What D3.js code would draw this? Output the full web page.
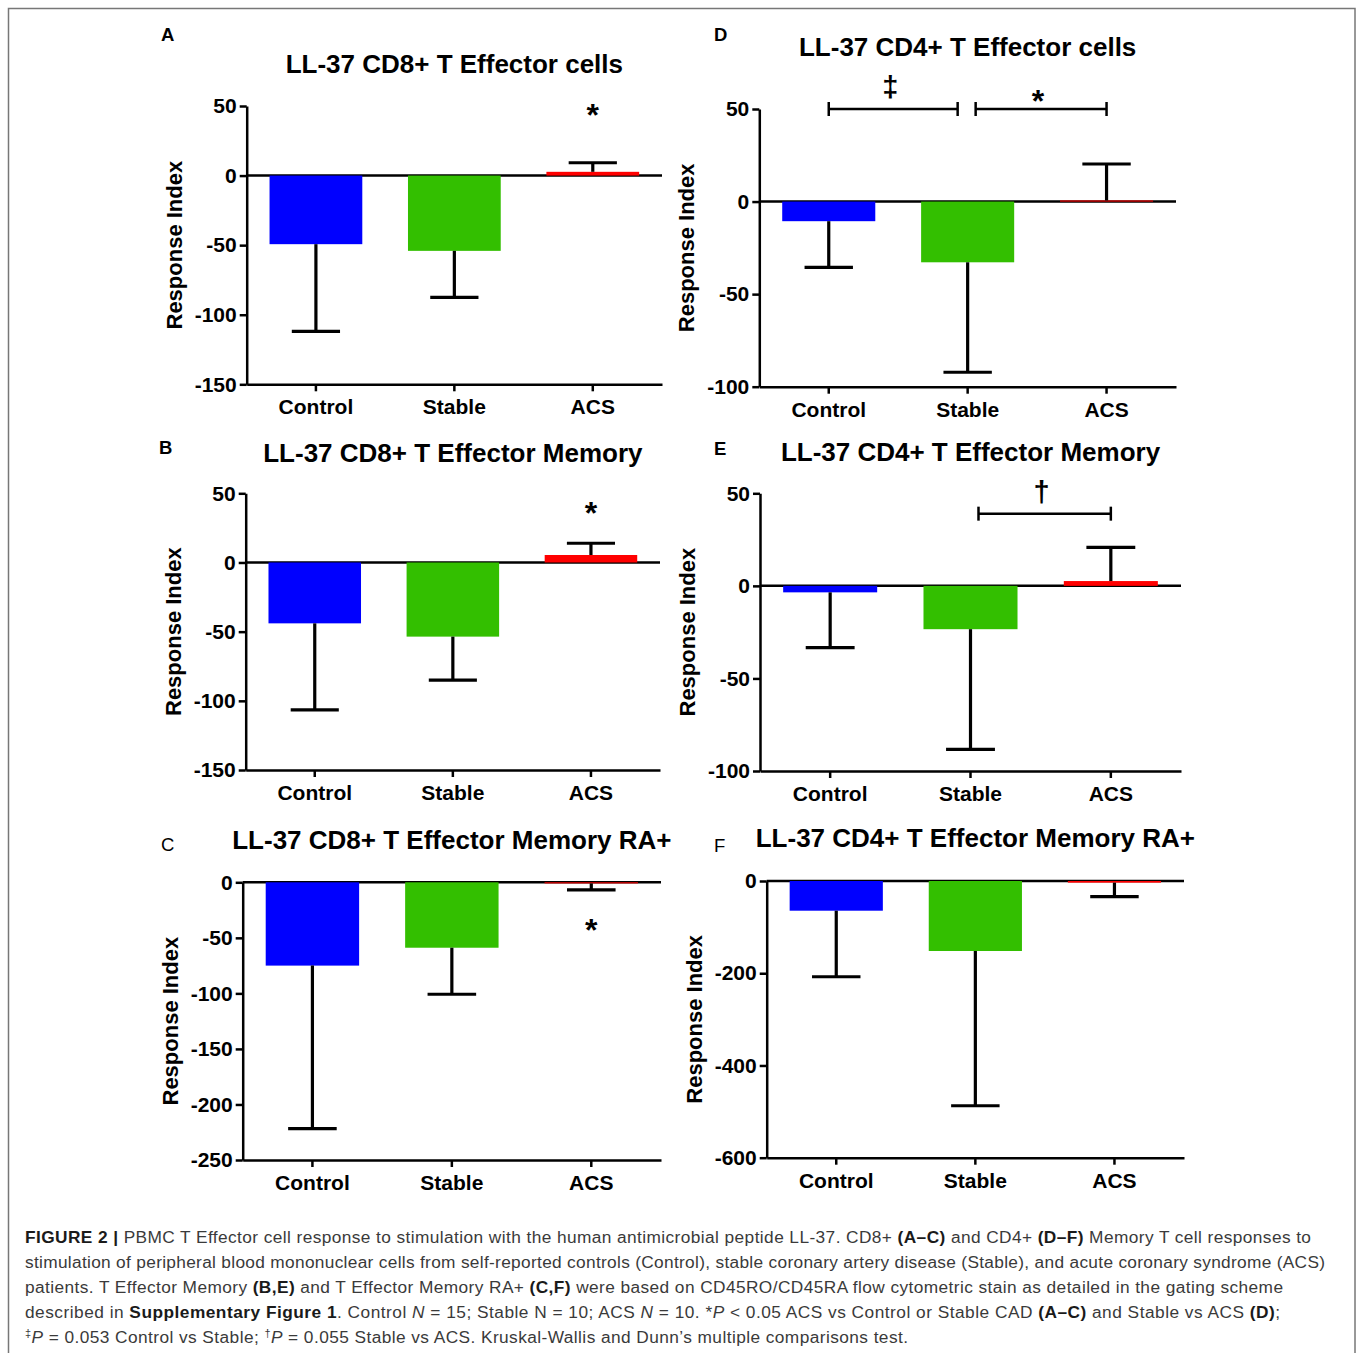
<!DOCTYPE html>
<html>
<head>
<meta charset="utf-8">
<script src="https://cdn.jsdelivr.net/npm/d3@7"></script>
<style>
  body { margin: 0; background: #fff; }
  svg text { font-family: "Liberation Sans", Arial, Helvetica, sans-serif; }
</style>
</head>
<body>
<svg id="fig"></svg>
<script>
// ---- data ----
const categories = ["Control", "Stable", "ACS"];
const panelIds = ["A", "B", "C", "D", "E", "F"];
const panelTitles = [
  "LL-37 CD8+ T Effector cells",
  "LL-37 CD8+ T Effector Memory",
  "LL-37 CD8+ T Effector Memory RA+",
  "LL-37 CD4+ T Effector cells",
  "LL-37 CD4+ T Effector Memory",
  "LL-37 CD4+ T Effector Memory RA+"
];
const yLabel = "Response Index";

// mean response index per group (Control, Stable, ACS)
const meanA = [-49.3, -54.1, 2.7];
const meanB = [-44.0, -53.6, 5.4];
const meanC = [-75.0, -58.9, -1.0];
const meanD = [-10.6, -32.8, 0.6];
const meanE = [-3.5, -23.4, 2.6];
const meanF = [-64.4, -151.8, -3.6];

// one-sided error (SEM), drawn away from zero
const semA = [62.6, 33.5, 6.5];
const semB = [62.6, 31.4, 8.5];
const semC = [146.8, 41.9, 5.9];
const semD = [24.9, 59.4, 19.7];
const semE = [29.9, 64.9, 18.2];
const semF = [143.2, 335.6, 30.4];

// y axis domains and tick values
const domainA = [-150, 50], ticksA = [50, 0, -50, -100, -150];
const domainB = [-150, 50], ticksB = [50, 0, -50, -100, -150];
const domainC = [-250, 0],  ticksC = [0, -50, -100, -150, -200, -250];
const domainD = [-100, 50], ticksD = [50, 0, -50, -100];
const domainE = [-100, 50], ticksE = [50, 0, -50, -100];
const domainF = [-600, 0],  ticksF = [0, -200, -400, -600];

// significance marks: single group marks and brackets (value = y in data units)
const starMarks = [
  { panel: "A", group: "ACS", value: 46, symbol: "*" },
  { panel: "B", group: "ACS", value: 38, symbol: "*" },
  { panel: "C", group: "ACS", value: -40, symbol: "*" }
];
const brackets = [
  { panel: "D", from: "Control", to: "Stable", value: 50, symbol: "\u2021" },
  { panel: "D", from: "Stable", to: "ACS", value: 50, symbol: "*" },
  { panel: "E", from: "Stable", to: "ACS", value: 39, symbol: "\u2020" }
];

const means = [meanA, meanB, meanC, meanD, meanE, meanF];
const sems = [semA, semB, semC, semD, semE, semF];
const domains = [domainA, domainB, domainC, domainD, domainE, domainF];
const tickSets = [ticksA, ticksB, ticksC, ticksD, ticksE, ticksF];

const groupColors = ["#0000ff", "#33bf00", "#ff0000"];

// ---- layout (pixels) ----
const layout = [
  { left: 246.7, right: 662,  top: 106,   bottom: 384.3,  titleGap: 33, label: [161, 41],  labelWeight: "bold" },
  { left: 245.7, right: 660,  top: 493.3, bottom: 770,    titleGap: 31, label: [159, 454], labelWeight: "bold" },
  { left: 242.7, right: 661,  top: 882.3, bottom: 1160,   titleGap: 33, label: [161, 851], labelWeight: "normal" },
  { left: 759.3, right: 1176, top: 109,   bottom: 386.7,  titleGap: 53, label: [714, 41],  labelWeight: "bold" },
  { left: 760,   right: 1181, top: 493.3, bottom: 771,    titleGap: 32, label: [714, 455], labelWeight: "bold" },
  { left: 766.7, right: 1184, top: 881,   bottom: 1157.7, titleGap: 34, label: [714, 852], labelWeight: "normal" }
];

const W = 1358, H = 1353;
const svg = d3.select("#fig").attr("width", W).attr("height", H);

svg.append("rect")
  .attr("x", 8.5).attr("y", 8.5)
  .attr("width", 1346.5).attr("height", 1400)
  .attr("fill", "none").attr("stroke", "#777").attr("stroke-width", 1.5);

panelIds.forEach((id, i) => {
  const L = layout[i];
  const g = svg.append("g");

  const x = d3.scaleBand().domain(categories)
    .range([L.left, L.right]).paddingInner(0.33).paddingOuter(0.165);
  const y = d3.scaleLinear().domain(domains[i]).range([L.bottom, L.top]);
  const bw = x.bandwidth();

  const rows = categories.map((c, k) => ({ c, v: means[i][k], e: sems[i][k], color: groupColors[k] }));

  // zero line
  g.append("line")
    .attr("x1", L.left).attr("x2", L.right)
    .attr("y1", y(0)).attr("y2", y(0))
    .attr("stroke", "#000").attr("stroke-width", 2.5);

  // bars
  g.selectAll("rect.bar").data(rows).enter().append("rect")
    .attr("class", "bar")
    .attr("x", d => x(d.c))
    .attr("width", bw)
    .attr("y", d => y(Math.max(0, d.v)))
    .attr("height", d => Math.abs(y(d.v) - y(0)))
    .attr("fill", d => d.color);

  // error bars
  const ends = d => d.v + (d.v >= 0 ? d.e : -d.e);
  const capW = bw * 0.52;
  const eb = g.selectAll("g.err").data(rows).enter().append("g").attr("class", "err")
    .attr("stroke", "#000").attr("stroke-width", 3.2);
  eb.append("line")
    .attr("x1", d => x(d.c) + bw / 2).attr("x2", d => x(d.c) + bw / 2)
    .attr("y1", d => y(d.v)).attr("y2", d => y(ends(d)));
  eb.append("line")
    .attr("x1", d => x(d.c) + bw / 2 - capW / 2).attr("x2", d => x(d.c) + bw / 2 + capW / 2)
    .attr("y1", d => y(ends(d))).attr("y2", d => y(ends(d)));

  // axes
  const yAxis = g.append("g")
    .attr("transform", `translate(${L.left},0)`)
    .call(d3.axisLeft(y).tickValues(tickSets[i]).tickFormat(d => String(d))
      .tickSize(7).tickSizeOuter(0).tickPadding(3));
  const xAxis = g.append("g")
    .attr("transform", `translate(0,${L.bottom})`)
    .call(d3.axisBottom(x).tickSize(7).tickSizeOuter(0).tickPadding(8));
  [yAxis, xAxis].forEach(a => {
    a.attr("font-family", null).attr("font-size", null);
    a.select(".domain").attr("stroke", "#000").attr("stroke-width", 2.5);
    a.selectAll(".tick line").attr("stroke", "#000").attr("stroke-width", 2.5);
    a.selectAll(".tick text")
      .attr("fill", "#000")
      .style("font-size", "21px")
      .style("font-weight", "bold");
  });

  // y title
  g.append("text")
    .attr("transform", `translate(${L.left - 73},${(L.top + L.bottom) / 2}) rotate(-90)`)
    .attr("text-anchor", "middle")
    .attr("dy", "0.36em")
    .style("font-size", "22px").style("font-weight", "bold")
    .text(yLabel);

  // title
  g.append("text")
    .attr("x", (L.left + L.right) / 2)
    .attr("y", L.top - L.titleGap)
    .attr("text-anchor", "middle")
    .style("font-size", "26px").style("font-weight", "bold")
    .text(panelTitles[i]);

  // panel letter
  g.append("text")
    .attr("x", L.label[0]).attr("y", L.label[1])
    .style("font-size", "18.5px").style("font-weight", L.labelWeight)
    .text(id);

  // significance marks
  starMarks.filter(s => s.panel === id).forEach(s => {
    g.append("text")
      .attr("x", x(s.group) + bw / 2)
      .attr("y", y(s.value) + 14.5)
      .attr("text-anchor", "middle")
      .style("font-size", "32px").style("font-weight", "bold")
      .text(s.symbol);
  });

  brackets.filter(b => b.panel === id).forEach(b => {
    const x1 = x(b.from) + bw / 2 + (b.from === "Stable" ? 8 : 0);
    const x2 = x(b.to) + bw / 2 - (b.to === "Stable" ? 10 : 0);
    const yy = y(b.value);
    const bg = g.append("g").attr("stroke", "#000").attr("stroke-width", 2.5);
    bg.append("line").attr("x1", x1).attr("x2", x2).attr("y1", yy).attr("y2", yy);
    bg.append("line").attr("x1", x1).attr("x2", x1).attr("y1", yy - 7).attr("y2", yy + 7);
    bg.append("line").attr("x1", x2).attr("x2", x2).attr("y1", yy - 7).attr("y2", yy + 7);
    const isStar = b.symbol === "*";
    g.append("text")
      .attr("x", (x1 + x2) / 2 - 3)
      .attr("y", isStar ? yy + 3 : yy - 12)
      .attr("text-anchor", "middle")
      .style("font-size", isStar ? "32px" : "29px").style("font-weight", "bold")
      .text(b.symbol);
  });
});

// ---- caption ----
const captionLines = [
  [["FIGURE 2 |", "b"], [" PBMC T Effector cell response to stimulation with the human antimicrobial peptide LL-37. CD8+ "], ["(A\u2013C)", "b"], [" and CD4+ "], ["(D\u2013F)", "b"], [" Memory T cell responses to"]],
  [["stimulation of peripheral blood mononuclear cells from self-reported controls (Control), stable coronary artery disease (Stable), and acute coronary syndrome (ACS)"]],
  [["patients. T Effector Memory "], ["(B,E)", "b"], [" and T Effector Memory RA+ "], ["(C,F)", "b"], [" were based on CD45RO/CD45RA flow cytometric stain as detailed in the gating scheme"]],
  [["described in "], ["Supplementary Figure 1", "b"], [". Control "], ["N", "i"], [" = 15; Stable N = 10; ACS "], ["N", "i"], [" = 10. *"], ["P", "i"], [" < 0.05 ACS vs Control or Stable CAD "], ["(A\u2013C)", "b"], [" and Stable vs ACS "], ["(D)", "b"], [";"]],
  [["\u2021", "sup"], ["P", "i"], [" = 0.053 Control vs Stable; "], ["\u2020", "sup"], ["P", "i"], [" = 0.055 Stable vs ACS. Kruskal-Wallis and Dunn\u2019s multiple comparisons test."]]
];
const captionWidths = [1286, 1300, 1258, 1255, 883];

captionLines.forEach((segs, li) => {
  const t = svg.append("text")
    .attr("x", 25).attr("y", 1243 + li * 25)
    .attr("textLength", captionWidths[li])
    .attr("lengthAdjust", "spacing")
    .style("font-size", "17.3px")
    .attr("fill", "#3a3a3a");
  segs.forEach(([txt, st]) => {
    const s = t.append("tspan").text(txt);
    if (st === "b") s.style("font-weight", "bold").attr("fill", "#1a1a1a");
    if (st === "i") s.style("font-style", "italic");
    if (st === "sup") s.style("font-size", "11px").attr("baseline-shift", "super");
  });
});
</script>
</body>
</html>
